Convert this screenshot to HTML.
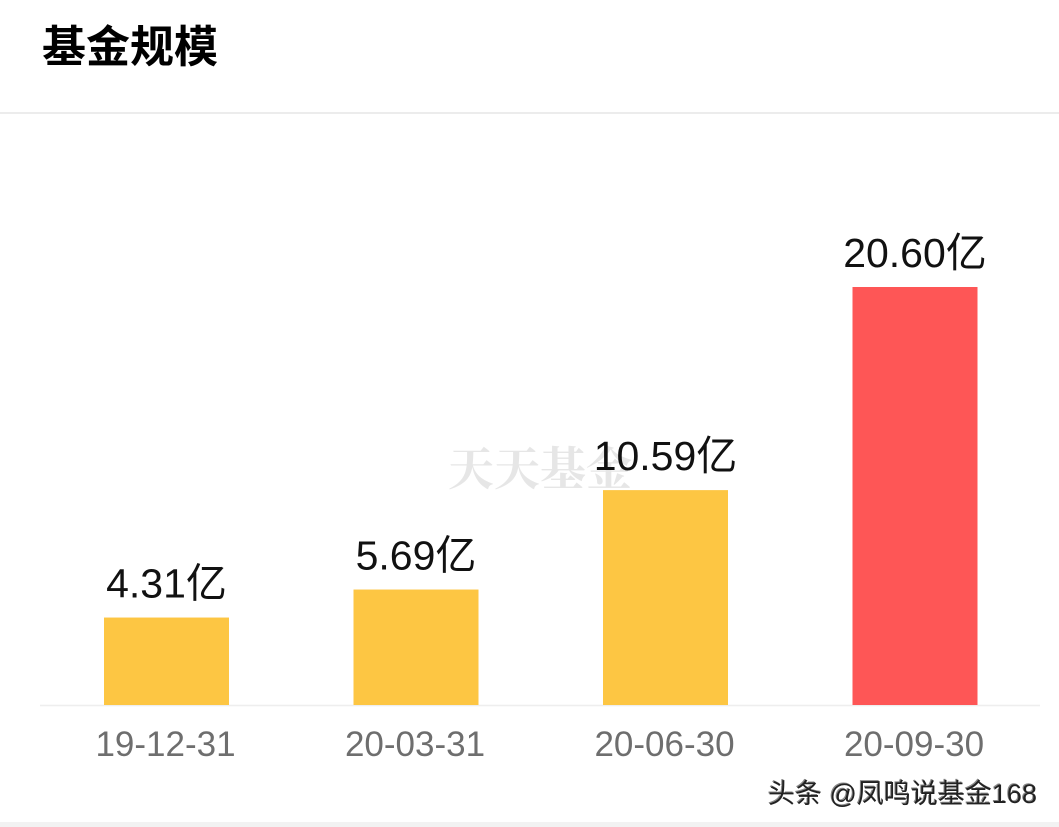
<!DOCTYPE html>
<html><head><meta charset="utf-8"><style>
body{margin:0;width:1059px;height:827px;background:#fff;overflow:hidden;font-family:"Liberation Sans","Noto Sans CJK SC",sans-serif;position:relative}
.title{position:absolute;left:42px;top:19px;font-size:44px;font-weight:bold;color:#000;line-height:58px}
.div{position:absolute;left:0;top:112px;width:1059px;height:2px;background:#ececec}
.bot{position:absolute;left:0;top:822px;width:1059px;height:5px;background:#f2f2f2}
.foot{position:absolute;left:768px;top:772px;font-size:27px;color:#222;text-shadow:1px 1px 0 #fff,-1px -1px 0 #888}
</style></head><body>
<div class="title">基金规模</div>
<div class="div"></div>
<svg id="chart" width="1059" height="827" style="position:absolute;left:0;top:0">
<text x="540" y="485" text-anchor="middle" font-size="46" font-weight="bold" fill="#e6e6e6" font-family="Liberation Serif,Noto Serif CJK SC,serif">天天基金</text>
</svg>
<div class="foot">头条 @凤鸣说基金168</div>
<div class="bot"></div>
<script>
const categories=["19-12-31","20-03-31","20-06-30","20-09-30"];
const values=[4.31,5.69,10.59,20.60];
const labels=["4.31亿","5.69亿","10.59亿","20.60亿"];
const highlight=[false,false,false,true];
const svg=document.getElementById('chart');
const NS='http://www.w3.org/2000/svg';
const base=705,scale=418/20.60;
const y=v=>base-v*scale;
const xc=i=>166.5+i*249.5;
const bw=125;
const ax=document.createElementNS(NS,'line');


ax.setAttribute('x1',40);ax.setAttribute('x2',1040);ax.setAttribute('y1',base+0.5);ax.setAttribute('y2',base+0.5);ax.setAttribute('stroke','#eeeeee');ax.setAttribute('stroke-width',1.5);
svg.appendChild(ax);
categories.forEach((c,i)=>{
 const r=document.createElementNS(NS,'rect');
 
 
 r.setAttribute('x',xc(i)-bw/2);r.setAttribute('y',y(values[i]));r.setAttribute('width',bw);r.setAttribute('height',base-y(values[i]));
 r.setAttribute('fill',highlight[i]?'#fe5656':'#fdc643');
 svg.appendChild(r);
 const t=document.createElementNS(NS,'text');
 
 
 t.setAttribute('x',xc(i));t.setAttribute('y',y(values[i])-20);t.setAttribute('text-anchor','middle');t.setAttribute('font-size','41');t.setAttribute('fill','#111');
 t.textContent=labels[i];svg.appendChild(t);
 const l=document.createElementNS(NS,'text');
 
 
 l.setAttribute('x',xc(i)-1);l.setAttribute('y',756);l.setAttribute('text-anchor','middle');l.setAttribute('font-size','35');l.setAttribute('fill','#6e6e6e');
 l.textContent=c;svg.appendChild(l);
});
</script>
</body></html>
